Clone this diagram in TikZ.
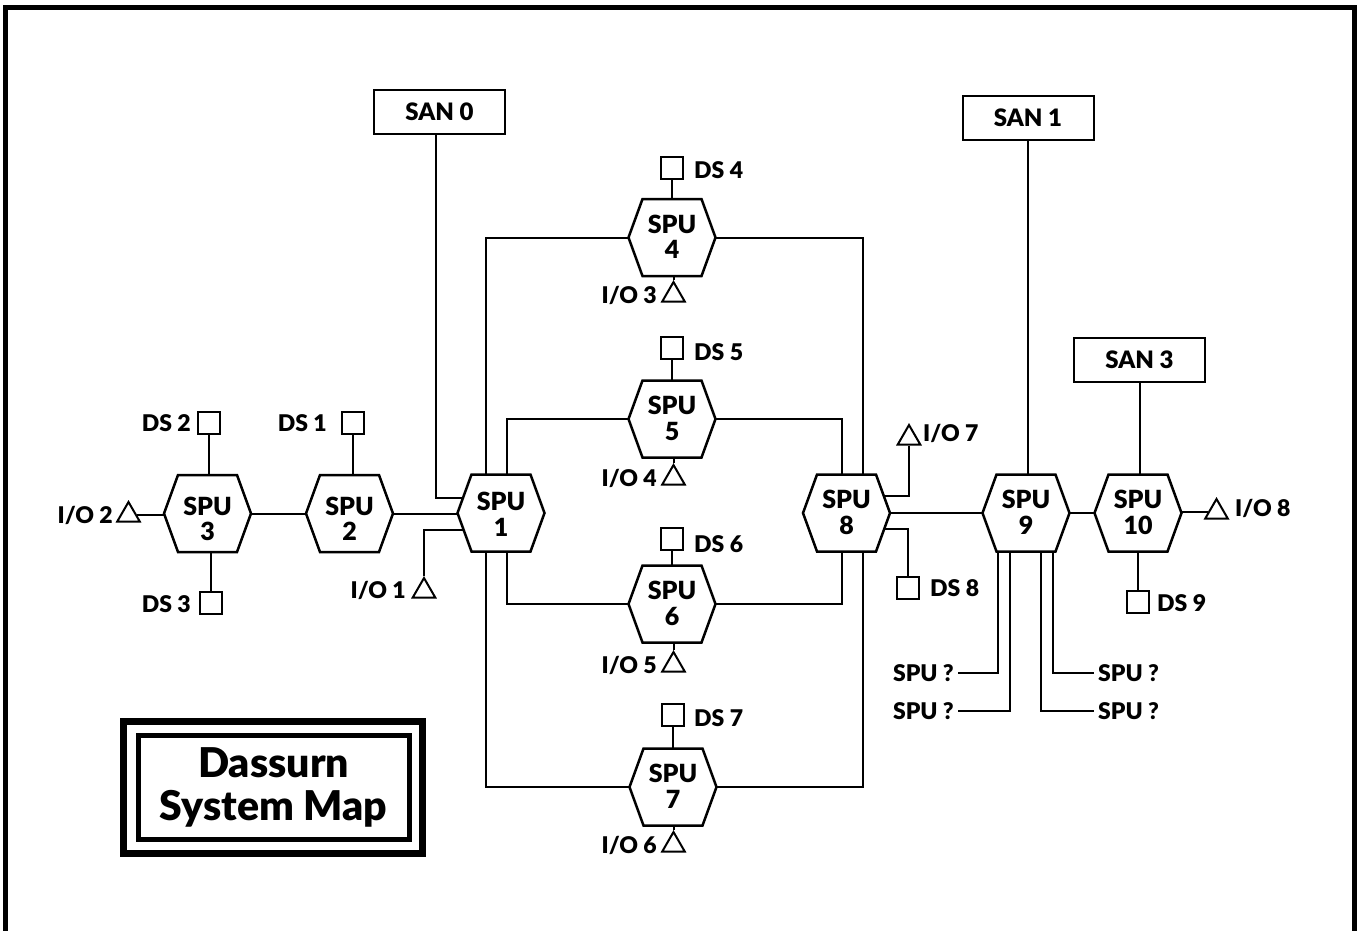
\documentclass[tikz,border=0pt]{standalone}
\usepackage{fontspec}
\setmainfont{Lato}[BoldFont={* Black}]
\usetikzlibrary{calc,shapes.geometric,backgrounds}
\newcommand\spulab[2][3pt]{\raisebox{-#1}[\height][\depth]{\begin{tabular}{@{}c@{}}SPU\\#2\end{tabular}}}
\newcommand\hexdraw[1]{\filldraw[hexline] ($(#1)+(-43.5,0)$) -- ($(#1)+(-29.5,-38.5)$) -- ($(#1)+(29.5,-38.5)$) -- ($(#1)+(43.5,0)$) -- ($(#1)+(29.5,38.5)$) -- ($(#1)+(-29.5,38.5)$) -- cycle;}
\begin{document}
\begin{tikzpicture}[x=1pt,y=-1pt,
  conn/.style={line width=2pt},
  hexbox/.style={inner sep=0pt, align=center, font=\fontsize{25}{25}\selectfont\bfseries},
  hexline/.style={line width=2.5pt, fill=white, line join=miter},
  dsbox/.style={draw, line width=2pt, fill=white, minimum size=22pt, inner sep=0pt},
  iotri/.style={draw, line width=2pt, fill=white, regular polygon, regular polygon sides=3, minimum size=26pt, inner sep=0pt},
  lbl/.style={inner sep=0pt, font=\fontsize{23}{23}\selectfont\bfseries, text height=16.5pt, text depth=0pt},
  qlbl/.style={lbl, inner xsep=4pt},
  sanbox/.style={draw, line width=2pt, fill=white, minimum width=131pt, minimum height=44pt, inner sep=0pt, font=\fontsize{24}{24}\selectfont\bfseries},
]
\useasboundingbox (0,0) rectangle (1357,930);
% outer frame
\draw[line width=5pt] (5.5,7.5) rectangle (1354.5,960);

% SPU nodes
\node[hexbox] (s3) at (207.5,513.5) {\spulab[9pt]{3}};
\node[hexbox] (s2) at (349.5,513.5) {\spulab[9pt]{2}};
\node[hexbox] (s1) at (501,513) {\spulab[5pt]{1}};
\node[hexbox] (s4) at (672,237.5) {\spulab{4}};
\node[hexbox] (s5) at (672,419) {\spulab{5}};
\node[hexbox] (s6) at (672,604) {\spulab{6}};
\node[hexbox] (s7) at (673,787) {\spulab{7}};
\node[hexbox] (s8) at (846.5,513) {\spulab{8}};
\node[hexbox] (s9) at (1026,513) {\spulab{9}};
\node[hexbox] (s10) at (1138,513) {\spulab{10}};

% SAN boxes
\node[sanbox] (san0) at (439.5,112) {SAN 0};
\node[sanbox] (san1) at (1028,118) {SAN 1};
\node[sanbox] (san3) at (1139.5,360) {SAN 3};

% data stores
\node[dsbox] (ds1) at (352.5,422.5) {};
\node[dsbox] (ds2) at (209,422.5) {};
\node[dsbox] (ds3) at (211,603) {};
\node[dsbox] (ds4) at (672,168) {};
\node[dsbox] (ds5) at (672,348) {};
\node[dsbox] (ds6) at (672,539) {};
\node[dsbox] (ds7) at (672.5,714.5) {};
\node[dsbox] (ds8) at (908,588) {};
\node[dsbox] (ds9) at (1138,602) {};

% I/O triangles
\node[iotri] (io1) at (424,591) {};
\node[iotri] (io2) at (128.5,515) {};
\node[iotri] (io3) at (673.5,295) {};
\node[iotri] (io4) at (673.5,478) {};
\node[iotri] (io5) at (673.5,665) {};
\node[iotri] (io6) at (673.5,845) {};
\node[iotri] (io7) at (909,438) {};
\node[iotri] (io8) at (1216.5,512) {};

% labels
\node[lbl, anchor=east] (lds2) at (191,423) {DS 2};
\node[lbl, anchor=east] (lds1) at (327,423) {DS 1};
\node[lbl, anchor=east] (lds3) at (191,604) {DS 3};
\node[lbl, anchor=east] (lio2) at (113,515) {I/O 2};
\node[lbl, anchor=east] (lio1) at (406,590) {I/O 1};
\node[lbl, anchor=west] (lds4) at (694,170) {DS 4};
\node[lbl, anchor=east] (lio3) at (657,295) {I/O 3};
\node[lbl, anchor=west] (lds5) at (694,352) {DS 5};
\node[lbl, anchor=east] (lio4) at (657,478) {I/O 4};
\node[lbl, anchor=west] (lds6) at (694,544) {DS 6};
\node[lbl, anchor=east] (lio5) at (657,665) {I/O 5};
\node[lbl, anchor=west] (lds7) at (694,718) {DS 7};
\node[lbl, anchor=east] (lio6) at (657,845) {I/O 6};
\node[lbl, anchor=west] (lio7) at (923,433) {I/O 7};
\node[lbl, anchor=west] (lds8) at (930,588) {DS 8};
\node[lbl, anchor=west] (lio8) at (1235,508) {I/O 8};
\node[lbl, anchor=west] (lds9) at (1157,603) {DS 9};
\node[qlbl, anchor=east] (q1) at (958,673) {SPU ?};
\node[qlbl, anchor=east] (q2) at (958,711) {SPU ?};
\node[qlbl, anchor=west] (q3) at (1094,673) {SPU ?};
\node[qlbl, anchor=west] (q4) at (1094,711) {SPU ?};

% title
\node[draw, line width=5pt, outer sep=0pt, minimum width=271pt, minimum height=103.5pt, align=center,
      font=\fontsize{41}{43}\selectfont\bfseries] (title) at (273.5,787.25) {Dassurn\\System Map};
\draw[line width=7pt] ($(title.north west)+(-14.5,-14)$) rectangle ($(title.south east)+(13,14.5)$);

\begin{pgfonlayer}{background}
\fill[white] (0,0) rectangle (1357,930);
% left chain
\draw[conn] (ds2) -- (ds2 |- s3);
\draw[conn] (ds3) -- (ds3 |- s3);
\draw[conn] (io2) -- (io2 -| s3);
\draw[conn] (s3) -- (s2);
\draw[conn] (ds1) -- (ds1 |- s2);
\draw[conn] (s2) -- (s2 -| s1);
\draw[conn] ([xshift=-4pt]san0.south) |- ($(s1)+(0,-15)$);
\draw[conn] (io1) |- ($(s1)+(0,17)$);
% rings
\draw[conn] ($(s1)+(-15,0)$) |- (s4) -| ($(s8)+(16.5,0)$);
\draw[conn] ($(s1)+(-15,0)$) |- (s7) -| ($(s8)+(16.5,0)$);
\draw[conn] ($(s1)+(6,0)$) |- (s5) -| ($(s8)+(-4.5,0)$);
\draw[conn] ($(s1)+(6,0)$) |- (s6) -| ($(s8)+(-4.5,0)$);
% centre column
\draw[conn] (ds4) -- (ds4 |- s4);
\draw[conn] (io3) -- (io3 |- s4);
\draw[conn] (ds5) -- (ds5 |- s5);
\draw[conn] (io4) -- (io4 |- s5);
\draw[conn] (ds6) -- (ds6 |- s6);
\draw[conn] (io5) -- (io5 |- s6);
\draw[conn] (ds7) -- (ds7 |- s7);
\draw[conn] (io6) -- (io6 |- s7);
% right part
\draw[conn] (s8) -- (s9);
\draw[conn] (s9) -- (s10);
\draw[conn] (io7) |- ($(s8)+(0,-17)$);
\draw[conn] (ds8) |- ($(s8)+(0,16)$);
\draw[conn] (san1.south) -- (san1.south |- s9);
\draw[conn] (san3.south) -- (san3.south |- s10);
\draw[conn] (ds9) -- (ds9 |- s10);
\draw[conn] (io8) -- (io8 -| s10);
\draw[conn] ($(s9)+(-28,0)$) |- (q1.east);
\draw[conn] ($(s9)+(-16,0)$) |- (q2.east);
\draw[conn] ($(s9)+(27,0)$) |- (q3.west);
\draw[conn] ($(s9)+(15,0)$) |- (q4.west);
% hexagon outlines
\foreach \n in {s1,s2,s3,s4,s5,s6,s7,s8,s9,s10} {\hexdraw{\n}}
\end{pgfonlayer}
\end{tikzpicture}
\end{document}
